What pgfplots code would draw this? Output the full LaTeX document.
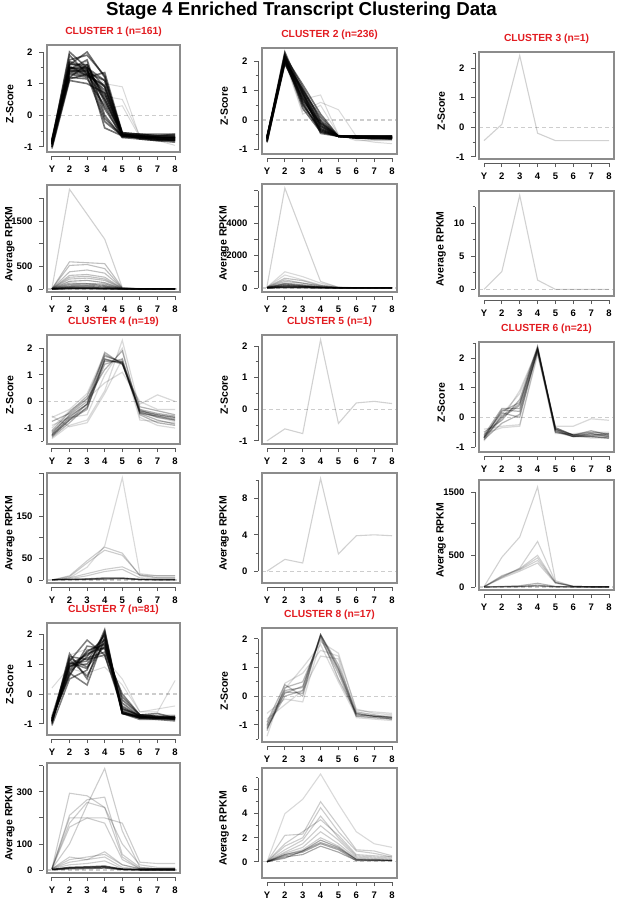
\documentclass[border=0pt]{standalone}
\usepackage{pgfplots}
\pgfplotsset{compat=1.18}
\usepackage{fontspec}
\setmainfont{Liberation Sans}
\definecolor{cred}{RGB}{226,28,33}
\definecolor{framec}{RGB}{140,140,140}
\definecolor{spinec}{RGB}{90,90,90}
\definecolor{zeroc}{RGB}{205,205,205}
\newcommand\LL[9][]{\addplot[dl,#1] coordinates {(1,#2)(2,#3)(3,#4)(4,#5)(5,#6)(6,#7)(7,#8)(8,#9)};}
\newcommand\frm[3]{%
  \addplot[zeroc, dash pattern=on 4pt off 3pt, line width=1.2pt] coordinates {(0.72,0)(8.28,0)};
  \draw[spinec, line width=0.9pt, yshift=-4pt] (axis cs:1,#1) -- (axis cs:8,#1);
  \draw[spinec, line width=0.9pt, xshift=-4pt] (axis cs:0.72,#2) -- (axis cs:0.72,#3);
}
\newcommand\pbox{\draw[framec, line width=1.4pt] (rel axis cs:0,0) rectangle (rel axis cs:1,1);}
\pgfplotsset{
  dl/.style={black, opacity=0.25, line width=1pt},
  rbase/.style={
    scale only axis, clip=false,
    xmin=0.72, xmax=8.28,
    axis x line*=bottom, axis y line*=left,
    axis line style={draw=none},
    xtick={1,...,8}, xticklabels={Y,2,3,4,5,6,7,8},
    tick align=outside,
    major tick length=4pt, minor tick length=2.5pt,
    every tick/.style={spinec, line width=0.9pt},
    xtick style={yshift=-4pt}, ytick style={xshift=-4pt},
    xticklabel shift=6pt, yticklabel shift=7pt,
    tick label style={font=\bfseries\fontsize{9.5}{11}\selectfont, text=black},
    yticklabel style={anchor=east},
    title style={font=\bfseries\fontsize{10.3}{12}\selectfont, text=cred, at={(0.5,1)}, anchor=base, yshift=5pt},
    ylabel style={font=\bfseries\fontsize{10.5}{12}\selectfont, at={(axis description cs:-0.28,0.45)}, anchor=center},
    anchor=north west,
  },
  rz/.style={rbase, ytick={-1,0,1,2}, yticklabels={-1,0,1,2}, ylabel={Z-Score}},
  rr/.style={rbase, ylabel={Average RPKM}},
}
\begin{document}
\begin{tikzpicture}
\useasboundingbox (0,0) rectangle (617pt,-900pt);
\node[anchor=base, font=\bfseries\fontsize{18.7}{22}\selectfont] at (301.5pt,-15pt) {Stage 4 Enriched Transcript Clustering Data};

% ---------------- CLUSTER 1 ----------------
\begin{axis}[rz, at={(47pt,-45pt)}, width=133pt, height=107pt, ymin=-1.16, ymax=2.22,
  minor ytick={-0.5,0.5,1.5}, title={CLUSTER 1 (n=161)}, dl/.style={black,opacity=0.55,line width=1.6pt}]
\frm{-1.16}{-1}{2}
\LL{-0.85}{2.0}{1.5}{1.1}{-0.6}{-0.65}{-0.65}{-0.65}
\LL{-0.9}{1.6}{2.0}{1.2}{-0.6}{-0.7}{-0.7}{-0.7}
\LL{-1.0}{1.4}{1.3}{0.9}{-0.65}{-0.7}{-0.75}{-0.8}
\LL{-0.8}{1.2}{1.6}{0.5}{-0.6}{-0.65}{-0.7}{-0.7}
\LL{-0.95}{1.5}{1.4}{0.2}{-0.65}{-0.7}{-0.7}{-0.75}
\LL{-0.85}{1.3}{1.2}{1.35}{-0.55}{-0.6}{-0.6}{-0.6}
\LL{-1.05}{1.1}{1.0}{0.7}{-0.6}{-0.75}{-0.8}{-0.85}
\LL{-0.75}{1.7}{1.5}{-0.4}{-0.65}{-0.65}{-0.7}{-0.7}
\LL{-0.9}{1.45}{1.75}{0.0}{-0.7}{-0.7}{-0.75}{-0.75}
\LL{-0.8}{1.9}{1.3}{0.8}{-0.6}{-0.6}{-0.65}{-0.65}
\LL[opacity=0.15,line width=1pt]{-0.95}{1.25}{1.45}{1.0}{0.9}{-0.7}{-0.8}{-0.95}
\LL[opacity=0.15,line width=1pt]{-0.85}{1.35}{1.55}{0.6}{0.5}{-0.65}{-0.7}{-0.8}
\LL{-0.9}{1.55}{1.25}{-0.2}{-0.65}{-0.7}{-0.7}{-0.7}
\LL{-0.8}{1.6}{1.6}{0.4}{-0.6}{-0.65}{-0.7}{-0.75}
\LL{-1.0}{1.2}{1.15}{0.3}{-0.7}{-0.75}{-0.8}{-0.8}
\LL{-0.85}{1.45}{1.35}{1.1}{-0.55}{-0.6}{-0.65}{-0.6}
\LL{-0.9}{1.5}{1.5}{0.9}{-0.6}{-0.7}{-0.7}{-0.7}
\LL[opacity=0.15,line width=1pt]{-0.95}{1.3}{1.7}{0.2}{0.3}{-0.7}{-0.75}{-0.8}
\LL{-0.8}{1.4}{1.4}{0.7}{-0.6}{-0.65}{-0.7}{-0.7}
\LL{-0.9}{1.65}{1.45}{-0.1}{-0.65}{-0.7}{-0.75}{-0.75}
\LL{-0.85}{1.75}{1.9}{1.25}{-0.6}{-0.65}{-0.7}{-0.7}
\LL{-0.95}{1.15}{1.3}{0.5}{-0.65}{-0.7}{-0.75}{-0.8}
\LL{-0.9}{1.35}{1.25}{0.95}{-0.6}{-0.72}{-0.78}{-0.78}
\LL{-0.85}{1.5}{1.45}{0.6}{-0.62}{-0.68}{-0.7}{-0.72}
\pbox
\end{axis}
\begin{axis}[rr, at={(47pt,-185pt)}, width=133pt, height=107pt, ymin=-66, ymax=2294,
  ytick={0,500,1000,1500,2000}, yticklabels={0,500,,1500,}, dl/.style={black,opacity=0.25,line width=1.1pt}]
\frm{-66}{0}{2000}
\LL[opacity=0.18]{10}{2200}{1650}{1100}{30}{10}{5}{5}
\LL{5}{600}{580}{560}{30}{5}{5}{5}
\LL{5}{520}{540}{450}{20}{5}{5}{5}
\LL{5}{380}{420}{350}{20}{5}{5}{5}
\LL{5}{300}{320}{260}{15}{5}{5}{5}
\LL{5}{260}{280}{220}{15}{5}{5}{5}
\LL{5}{220}{240}{190}{10}{5}{5}{5}
\LL[opacity=0.35]{5}{170}{190}{140}{10}{5}{5}{5}
\LL[opacity=0.35]{5}{130}{120}{110}{10}{3}{3}{3}
\LL[opacity=0.4]{5}{100}{110}{80}{8}{3}{3}{3}
\LL[opacity=0.45]{5}{70}{80}{60}{8}{3}{3}{3}
\LL[opacity=0.5]{3}{50}{55}{40}{5}{2}{2}{2}
\LL[opacity=0.5]{3}{35}{30}{25}{5}{2}{2}{2}
\LL[opacity=0.6,line width=1.5pt]{2}{20}{20}{15}{3}{1}{1}{1}
\LL[opacity=0.6,line width=1.5pt]{2}{12}{12}{8}{2}{1}{1}{1}
\LL[opacity=0.6,line width=1.5pt]{2}{8}{8}{5}{2}{1}{1}{1}
\pbox
\end{axis}

% ---------------- CLUSTER 2 ----------------
\begin{axis}[rz, at={(262pt,-48pt)}, width=135pt, height=106pt, ymin=-1.15, ymax=2.44,
  minor ytick={-0.5,0.5,1.5}, title={CLUSTER 2 (n=236)}, dl/.style={black,opacity=0.55,line width=1.6pt}]
\frm{-1.15}{-1}{2}
\LL{-0.6}{2.1}{1.0}{-0.2}{-0.55}{-0.55}{-0.55}{-0.55}
\LL{-0.65}{2.0}{0.8}{-0.35}{-0.55}{-0.6}{-0.6}{-0.6}
\LL{-0.7}{2.2}{1.1}{0.0}{-0.55}{-0.55}{-0.6}{-0.6}
\LL{-0.55}{1.95}{0.6}{-0.4}{-0.55}{-0.6}{-0.6}{-0.65}
\LL{-0.6}{2.3}{0.9}{-0.1}{-0.55}{-0.55}{-0.55}{-0.55}
\LL{-0.75}{2.05}{0.5}{-0.3}{-0.55}{-0.6}{-0.65}{-0.65}
\LL[opacity=0.15,line width=1pt]{-0.6}{2.1}{0.7}{0.85}{-0.5}{-0.65}{-0.75}{-0.8}
\LL[opacity=0.15,line width=1pt]{-0.65}{2.0}{0.3}{0.6}{0.35}{-0.55}{-0.6}{-0.6}
\LL{-0.6}{2.15}{1.2}{0.2}{-0.55}{-0.55}{-0.6}{-0.6}
\LL{-0.7}{1.9}{0.75}{-0.25}{-0.55}{-0.6}{-0.6}{-0.6}
\LL{-0.6}{2.05}{0.95}{-0.45}{-0.55}{-0.55}{-0.55}{-0.55}
\LL{-0.65}{2.2}{0.65}{-0.15}{-0.55}{-0.6}{-0.6}{-0.6}
\LL[opacity=0.15,line width=1pt]{-0.6}{2.0}{0.2}{0.5}{-0.5}{-0.7}{-0.7}{-0.7}
\LL{-0.55}{2.1}{0.85}{-0.3}{-0.55}{-0.55}{-0.55}{-0.55}
\LL{-0.7}{2.0}{1.05}{-0.05}{-0.55}{-0.6}{-0.6}{-0.6}
\LL{-0.6}{2.25}{0.55}{-0.35}{-0.55}{-0.55}{-0.6}{-0.55}
\LL{-0.65}{2.0}{0.9}{-0.2}{-0.55}{-0.6}{-0.6}{-0.6}
\LL{-0.6}{2.1}{0.4}{-0.4}{-0.55}{-0.55}{-0.55}{-0.55}
\LL{-0.75}{1.95}{0.7}{-0.1}{-0.55}{-0.6}{-0.6}{-0.6}
\LL{-0.6}{2.05}{1.0}{0.1}{-0.55}{-0.55}{-0.55}{-0.6}
\pbox
\end{axis}
\begin{axis}[rr, at={(262pt,-184pt)}, width=135pt, height=108pt, ymin=-246, ymax=6400,
  ytick={0,1000,2000,3000,4000,5000,6000}, yticklabels={0,,2000,,4000,,}, dl/.style={black,opacity=0.25,line width=1.1pt}]
\frm{-246}{0}{6000}
\LL[opacity=0.18]{100}{6150}{3280}{400}{50}{20}{10}{10}
\LL[opacity=0.15]{50}{1000}{700}{300}{50}{10}{10}{10}
\LL[opacity=0.15]{50}{800}{500}{200}{40}{10}{10}{10}
\LL{50}{600}{450}{150}{30}{10}{10}{10}
\LL{40}{500}{300}{150}{30}{10}{10}{10}
\LL{40}{400}{300}{100}{20}{10}{5}{5}
\LL[opacity=0.35]{30}{300}{200}{80}{20}{5}{5}{5}
\LL[opacity=0.45]{30}{250}{150}{60}{20}{5}{5}{5}
\LL[opacity=0.45]{20}{200}{120}{50}{10}{5}{5}{5}
\LL[opacity=0.5]{20}{150}{100}{40}{10}{5}{5}{5}
\LL[opacity=0.6,line width=1.5pt]{10}{100}{80}{30}{10}{5}{5}{5}
\LL[opacity=0.6,line width=1.5pt]{10}{60}{40}{20}{5}{2}{2}{2}
\LL[opacity=0.6,line width=1.5pt]{5}{30}{20}{10}{5}{2}{2}{2}
\pbox
\end{axis}

% ---------------- CLUSTER 3 ----------------
\begin{axis}[rz, at={(479pt,-52pt)}, width=135pt, height=107pt, ymin=-1.07, ymax=2.54,
  minor ytick={-0.5,0.5,1.5,2.5}, title={CLUSTER 3 (n=1)}, dl/.style={black,opacity=0.18,line width=1.1pt}]
\frm{-1.07}{-1}{2.5}
\LL{-0.45}{0.1}{2.42}{-0.2}{-0.45}{-0.45}{-0.45}{-0.45}
\pbox
\end{axis}
\begin{axis}[rr, at={(479pt,-191pt)}, width=135pt, height=105pt, ymin=-1.0, ymax=14.85,
  ytick={0,5,10}, yticklabels={0,5,10}, minor ytick={2.5,7.5,12.5}, dl/.style={black,opacity=0.18,line width=1.1pt}]
\frm{-1.0}{0}{12.5}
\LL{0}{2.7}{14.2}{1.4}{0}{0}{0}{0}
\pbox
\end{axis}

% ---------------- CLUSTER 4 ----------------
\begin{axis}[rz, at={(47pt,-335pt)}, width=133pt, height=109pt, ymin=-1.6, ymax=2.5,
  minor ytick={-1.5,-0.5,0.5,1.5}, title={CLUSTER 4 (n=19)}, dl/.style={black,opacity=0.3,line width=1.2pt}]
\frm{-1.6}{-1.5}{2}
\LL{-1.25}{-0.6}{-0.1}{1.6}{1.45}{-0.35}{-0.5}{-0.6}
\LL{-1.3}{-0.7}{-0.3}{1.55}{1.45}{-0.4}{-0.55}{-0.65}
\LL{-1.2}{-0.5}{0.0}{1.85}{1.4}{-0.3}{-0.45}{-0.55}
\LL{-1.1}{-0.4}{0.2}{1.7}{1.5}{-0.2}{-0.35}{-0.5}
\LL[opacity=0.15]{-0.6}{-0.3}{0.3}{1.8}{1.4}{-0.1}{0.25}{0.0}
\LL[opacity=0.15]{-1.4}{-0.9}{-0.7}{0.4}{2.3}{-0.3}{-0.6}{-0.75}
\LL{-0.75}{-0.45}{0.1}{1.2}{1.9}{-0.5}{-0.8}{-0.9}
\LL{-1.35}{-0.8}{-0.2}{1.4}{1.6}{-0.45}{-0.7}{-0.85}
\LL[opacity=0.15]{-0.9}{-0.6}{-0.5}{1.0}{2.0}{-0.6}{-0.9}{-1.0}
\LL[opacity=0.15]{-1.0}{-0.35}{0.1}{0.7}{1.1}{0.0}{-0.3}{-0.3}
\LL{-1.15}{-0.55}{-0.1}{1.5}{1.5}{-0.35}{-0.5}{-0.6}
\LL{-1.25}{-0.65}{-0.25}{1.6}{1.4}{-0.4}{-0.6}{-0.7}
\LL[opacity=0.15]{-0.55}{-0.95}{-0.8}{0.3}{1.6}{-0.7}{-0.75}{-0.8}
\LL{-1.3}{-0.7}{-0.1}{1.75}{1.45}{-0.45}{-0.55}{-0.7}
\pbox
\end{axis}
\begin{axis}[rr, at={(47pt,-473pt)}, width=133pt, height=110pt, ymin=-7, ymax=251,
  ytick={0,50,100,150,200,250}, yticklabels={0,50,,150,,}, dl/.style={black,opacity=0.2,line width=1.1pt}]
\frm{-7}{0}{250}
\LL[opacity=0.15]{0}{5}{30}{80}{240}{15}{10}{10}
\LL{0}{10}{45}{77}{63}{10}{5}{5}
\LL{0}{8}{40}{70}{58}{12}{6}{6}
\LL{0}{5}{15}{25}{31}{12}{10}{10}
\LL{0}{3}{10}{20}{25}{5}{3}{3}
\LL[opacity=0.5]{1}{2}{3}{5}{5}{2}{1}{1}
\LL[opacity=0.5]{1}{1}{2}{4}{4}{1}{1}{1}
\LL[opacity=0.5]{0}{1}{1}{2}{3}{1}{0}{0}
\pbox
\end{axis}

% ---------------- CLUSTER 5 ----------------
\begin{axis}[rz, at={(262pt,-335pt)}, width=135pt, height=109pt, ymin=-1.1, ymax=2.35,
  minor ytick={-0.5,0.5,1.5}, title={CLUSTER 5 (n=1)}, dl/.style={black,opacity=0.18,line width=1.1pt}]
\frm{-1.1}{-1}{2}
\LL{-1.0}{-0.62}{-0.77}{2.2}{-0.45}{0.2}{0.25}{0.18}
\pbox
\end{axis}
\begin{axis}[rr, at={(262pt,-473pt)}, width=135pt, height=110pt, ymin=-1.3, ymax=10.8,
  ytick={0,4,8}, yticklabels={0,4,8}, minor ytick={2,6,10}, dl/.style={black,opacity=0.18,line width=1.1pt}]
\frm{-1.3}{0}{10}
\LL{0}{1.3}{0.9}{10.2}{1.9}{3.9}{4.0}{3.9}
\pbox
\end{axis}

% ---------------- CLUSTER 6 ----------------
\begin{axis}[rz, at={(479pt,-342pt)}, width=135pt, height=110pt, ymin=-1.17, ymax=2.54,
  minor ytick={-0.5,0.5,1.5,2.5}, title={CLUSTER 6 (n=21)}, dl/.style={black,opacity=0.3,line width=1.2pt}]
\frm{-1.17}{-1}{2.5}
\LL{-0.7}{0.0}{0.4}{2.3}{-0.4}{-0.6}{-0.6}{-0.65}
\LL{-0.65}{0.2}{0.5}{2.35}{-0.45}{-0.65}{-0.65}{-0.7}
\LL{-0.75}{-0.2}{0.1}{2.25}{-0.35}{-0.6}{-0.55}{-0.6}
\LL{-0.6}{0.3}{0.3}{2.2}{-0.5}{-0.65}{-0.6}{-0.55}
\LL[opacity=0.15]{-0.4}{-0.3}{-0.25}{2.1}{-0.3}{-0.3}{-0.05}{-0.1}
\LL[opacity=0.15]{-0.8}{0.1}{0.8}{2.3}{-0.5}{-0.6}{-0.65}{-0.6}
\LL{-0.5}{-0.1}{0.6}{2.4}{-0.4}{-0.6}{-0.5}{-0.55}
\LL{-0.7}{0.25}{0.2}{2.3}{-0.45}{-0.65}{-0.55}{-0.65}
\LL[opacity=0.15]{-0.55}{-0.35}{-0.3}{2.2}{-0.55}{-0.55}{-0.5}{-0.5}
\LL{-0.7}{0.05}{0.45}{2.35}{-0.4}{-0.65}{-0.65}{-0.7}
\LL{-0.65}{0.15}{0.0}{2.3}{-0.35}{-0.6}{-0.45}{-0.6}
\LL[opacity=0.15]{-0.75}{-0.05}{0.9}{2.3}{-0.5}{-0.6}{-0.7}{-0.7}
\pbox
\end{axis}
\begin{axis}[rr, at={(479pt,-480pt)}, width=135pt, height=110pt, ymin=-47, ymax=1690,
  ytick={0,500,1000,1500}, yticklabels={0,500,,1500}, dl/.style={black,opacity=0.18,line width=1.1pt}]
\frm{-47}{0}{1500}
\LL{5}{470}{790}{1580}{100}{10}{5}{5}
\LL{5}{150}{300}{720}{80}{10}{5}{5}
\LL{5}{170}{290}{500}{70}{10}{5}{5}
\LL{5}{180}{280}{460}{70}{10}{5}{5}
\LL{5}{160}{270}{420}{70}{10}{5}{5}
\LL{5}{140}{250}{380}{60}{10}{5}{5}
\LL[opacity=0.3]{0}{10}{20}{60}{10}{3}{2}{2}
\LL[opacity=0.4]{0}{5}{10}{30}{5}{2}{1}{1}
\LL[opacity=0.4]{0}{3}{5}{15}{3}{1}{1}{1}
\pbox
\end{axis}

% ---------------- CLUSTER 7 ----------------
\begin{axis}[rz, at={(47pt,-623pt)}, width=133pt, height=112pt, ymin=-1.37, ymax=2.37,
  minor ytick={-0.5,0.5,1.5}, title={CLUSTER 7 (n=81)}, dl/.style={black,opacity=0.5,line width=1.5pt}]
\frm{-1.37}{-1}{2}
\LL{-0.9}{1.0}{1.1}{2.0}{-0.6}{-0.75}{-0.8}{-0.8}
\LL{-0.85}{0.8}{1.4}{1.8}{-0.65}{-0.8}{-0.8}{-0.85}
\LL{-1.0}{1.2}{0.9}{1.6}{-0.5}{-0.7}{-0.75}{-0.8}
\LL{-0.8}{0.6}{1.6}{1.5}{-0.3}{-0.75}{-0.8}{-0.8}
\LL{-0.95}{1.35}{0.5}{2.1}{-0.65}{-0.8}{-0.85}{-0.85}
\LL{-0.85}{0.9}{1.2}{1.4}{0.0}{-0.7}{-0.75}{-0.75}
\LL{-0.9}{0.7}{0.3}{1.9}{-0.6}{-0.8}{-0.8}{-0.8}
\LL{-0.75}{1.1}{1.8}{1.3}{-0.4}{-0.75}{-0.8}{-0.8}
\LL{-1.05}{0.5}{0.8}{2.15}{-0.65}{-0.85}{-0.85}{-0.9}
\LL{-0.9}{1.0}{1.3}{1.7}{-0.2}{-0.7}{-0.75}{-0.75}
\LL[opacity=0.15,line width=1pt]{-0.85}{0.85}{0.7}{0.9}{0.3}{-0.6}{-0.5}{-0.4}
\LL[opacity=0.15,line width=1pt]{-0.8}{1.3}{1.5}{1.2}{0.5}{-0.6}{-0.6}{0.45}
\LL[opacity=0.15,line width=1pt]{0.2}{0.9}{1.0}{1.6}{-0.6}{-0.7}{-0.7}{-0.7}
\LL{-0.95}{0.95}{1.0}{1.85}{-0.65}{-0.75}{-0.8}{-0.8}
\LL{-0.85}{0.75}{1.25}{1.95}{-0.55}{-0.8}{-0.8}{-0.8}
\LL{-0.9}{1.15}{0.6}{1.75}{-0.45}{-0.75}{-0.75}{-0.85}
\LL{-0.8}{0.65}{1.45}{1.65}{-0.65}{-0.75}{-0.8}{-0.75}
\LL{-0.95}{1.05}{0.85}{2.05}{-0.6}{-0.8}{-0.8}{-0.85}
\LL{-0.85}{0.9}{1.35}{1.55}{-0.1}{-0.7}{-0.65}{-0.8}
\LL{-0.9}{1.25}{1.15}{1.3}{-0.5}{-0.75}{-0.8}{-0.8}
\pbox
\end{axis}
\begin{axis}[rr, at={(47pt,-763pt)}, width=133pt, height=110pt, ymin=-11.5, ymax=411,
  ytick={0,100,200,300,400}, yticklabels={0,100,,300,}, dl/.style={black,opacity=0.2,line width=1.1pt}]
\frm{-11.5}{0}{400}
\LL{5}{100}{250}{390}{150}{10}{5}{5}
\LL{5}{295}{285}{240}{100}{20}{10}{10}
\LL{5}{210}{270}{280}{60}{10}{5}{5}
\LL{5}{200}{200}{200}{180}{30}{25}{25}
\LL{5}{180}{260}{240}{50}{5}{5}{5}
\LL{5}{165}{200}{180}{40}{5}{5}{5}
\LL{5}{40}{50}{60}{20}{5}{5}{5}
\LL{5}{30}{40}{50}{10}{5}{5}{5}
\LL{5}{50}{40}{70}{20}{5}{5}{5}
\LL{5}{20}{25}{35}{5}{3}{3}{3}
\LL[opacity=0.6,line width=1.5pt]{2}{10}{12}{15}{3}{1}{1}{1}
\LL[opacity=0.6,line width=1.5pt]{2}{8}{10}{12}{3}{1}{1}{1}
\LL[opacity=0.6,line width=1.5pt]{1}{5}{6}{8}{2}{1}{1}{1}
\pbox
\end{axis}

% ---------------- CLUSTER 8 ----------------
\begin{axis}[rz, at={(262pt,-628pt)}, width=135pt, height=114pt, ymin=-1.6, ymax=2.38,
  minor ytick={-1.5,-0.5,0.5,1.5}, title={CLUSTER 8 (n=17)}, dl/.style={black,opacity=0.28,line width=1.2pt}]
\frm{-1.6}{-1.5}{2}
\LL{-1.0}{0.2}{0.3}{2.15}{1.0}{-0.6}{-0.7}{-0.75}
\LL{-1.1}{0.0}{0.2}{2.1}{0.9}{-0.65}{-0.7}{-0.8}
\LL{-0.9}{0.4}{0.0}{2.15}{1.1}{-0.55}{-0.65}{-0.75}
\LL{-1.2}{0.3}{0.5}{2.0}{0.8}{-0.7}{-0.75}{-0.8}
\LL[opacity=0.15]{-0.6}{-0.1}{-0.2}{1.9}{1.5}{-0.5}{-0.55}{-0.6}
\LL[opacity=0.15]{-1.4}{0.45}{0.8}{1.6}{1.4}{-0.45}{-0.6}{-0.65}
\LL[opacity=0.15]{-0.8}{-0.3}{0.2}{1.4}{1.3}{-0.75}{-0.8}{-0.85}
\LL{-1.05}{0.1}{0.35}{2.1}{0.6}{-0.6}{-0.7}{-0.75}
\LL[opacity=0.15]{-0.95}{0.25}{1.0}{1.8}{0.5}{-0.7}{-0.75}{-0.8}
\LL{-1.15}{0.15}{0.1}{2.15}{0.95}{-0.65}{-0.7}{-0.7}
\pbox
\end{axis}
\begin{axis}[rr, at={(262pt,-768pt)}, width=135pt, height=110pt, ymin=-1.35, ymax=7.8,
  ytick={0,2,4,6}, yticklabels={0,2,4,6}, minor ytick={1,3,5,7}, dl/.style={black,opacity=0.2,line width=1.1pt}]
\frm{-1.35}{0}{7}
\LL[opacity=0.15]{0}{4.0}{5.2}{7.3}{4.8}{2.5}{1.5}{1.2}
\LL{0}{2.2}{2.3}{5.0}{3.0}{1.0}{0.9}{0.5}
\LL{0}{1.3}{2.0}{4.5}{2.5}{0.9}{0.7}{0.4}
\LL{0}{1.0}{1.8}{3.8}{2.0}{0.5}{0.4}{0.3}
\LL{0}{1.5}{2.5}{3.5}{2.2}{0.6}{0.5}{0.4}
\LL{0}{0.8}{1.5}{3.0}{1.8}{0.4}{0.3}{0.2}
\LL{0}{0.7}{1.2}{2.5}{1.5}{0.3}{0.2}{0.2}
\LL{0}{0.6}{1.0}{2.0}{1.3}{0.2}{0.2}{0.1}
\LL[opacity=0.35]{0}{0.6}{0.9}{1.8}{1.2}{0.2}{0.1}{0.1}
\LL[opacity=0.35]{0}{0.5}{0.8}{1.5}{1.0}{0.1}{0.1}{0.1}
\LL[opacity=0.35]{0}{0.4}{0.6}{1.3}{0.8}{0.1}{0.1}{0.1}
\LL[opacity=0.35]{0}{0.3}{0.9}{1.6}{1.1}{0.2}{0.2}{0.1}
\pbox
\end{axis}
\end{tikzpicture}
\end{document}
